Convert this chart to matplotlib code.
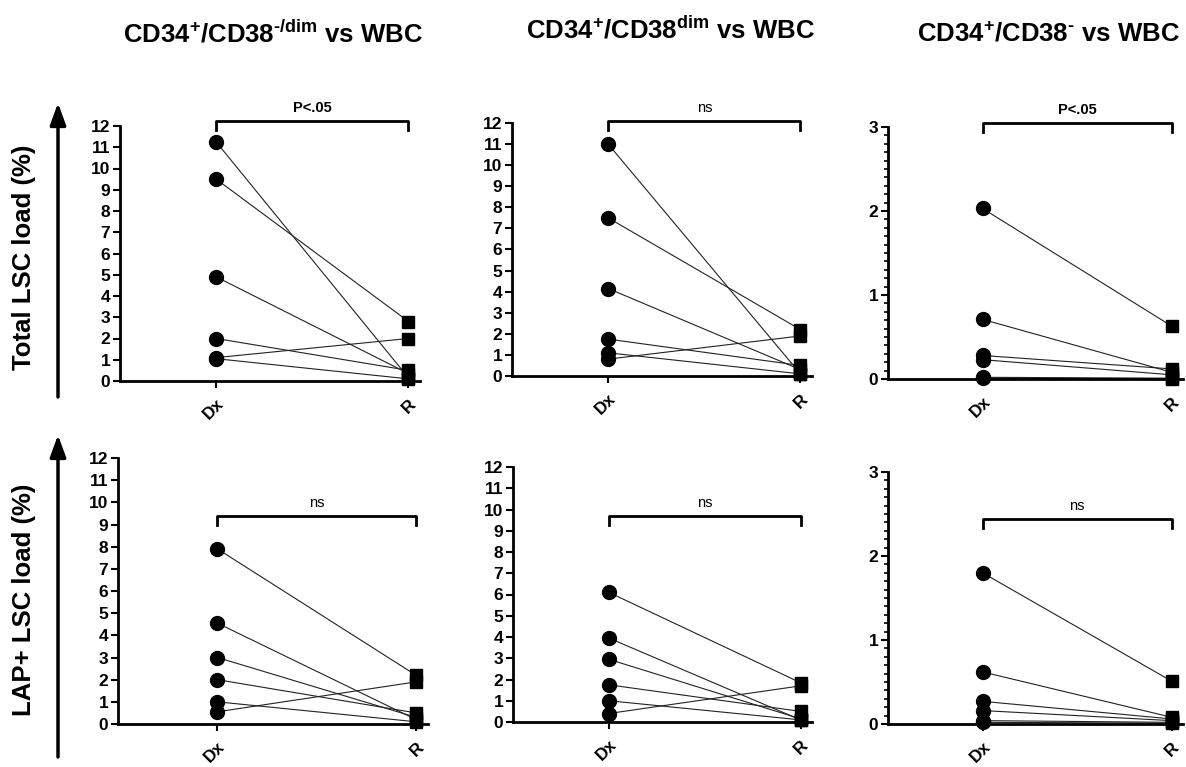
import matplotlib
matplotlib.use("Agg")
import matplotlib.pyplot as plt
from matplotlib.ticker import MultipleLocator

plt.rcParams['font.family'] = ['Liberation Sans', 'DejaVu Sans']
plt.rcParams['mathtext.fontset'] = 'custom'
plt.rcParams['mathtext.rm'] = 'Liberation Sans:bold'
plt.rcParams['mathtext.it'] = 'Liberation Sans:bold'
plt.rcParams['mathtext.bf'] = 'Liberation Sans:bold'
plt.rcParams['mathtext.default'] = 'bf'

groups = ['Dx', 'R']

# top row: total LSC load
tot_dim_dx = [11.25, 9.5, 4.9, 2.0, 1.1, 1.05]
tot_dim_r = [0.15, 2.8, 0.35, 0.5, 2.0, 0.1]
tot_dimonly_dx = [11.0, 7.5, 4.15, 1.75, 1.1, 0.8]
tot_dimonly_r = [0.1, 2.2, 0.3, 0.5, 0.1, 1.9]
tot_neg_dx = [2.03, 0.71, 0.28, 0.23, 0.02, 0.01]
tot_neg_r = [0.63, 0.08, 0.12, 0.05, 0.01, 0.0]

# bottom row: LAP+ LSC load
lap_dim_dx = [7.9, 4.55, 3.0, 2.0, 1.0, 0.55]
lap_dim_r = [2.2, 0.2, 0.3, 0.5, 0.1, 1.9]
lap_dimonly_dx = [6.1, 3.95, 2.95, 1.75, 1.0, 0.4]
lap_dimonly_r = [1.85, 0.1, 0.15, 0.5, 0.1, 1.7]
lap_neg_dx = [1.8, 0.62, 0.27, 0.16, 0.04, 0.02]
lap_neg_r = [0.51, 0.08, 0.06, 0.04, 0.02, 0.01]

titles = [r"CD34$^{+}$/CD38$^{\text{-/dim}}$ vs WBC",
          r"CD34$^{+}$/CD38$^{dim}$ vs WBC",
          r"CD34$^{+}$/CD38$^{\text{-}}$ vs WBC"]
row_labels = ["Total LSC load (%)", "LAP+ LSC load (%)"]

W, H = 1186, 767
fig = plt.figure(figsize=(W / 100, H / 100), dpi=100)


def px_axes(left, bottom_px, right, top_px):
    # pixel coords from top-left to figure fraction
    return fig.add_axes([left / W, 1 - bottom_px / H, (right - left) / W, (bottom_px - top_px) / H])


panels = [
    # left, y0 px, right, ytop px, ymax, dx, r, label, bracket y
    (120, 381, 420, 126, 12, tot_dim_dx, tot_dim_r, "P<.05", 12.25),
    (512, 376, 812, 123, 12, tot_dimonly_dx, tot_dimonly_r, "ns", 12.1),
    (888, 379, 1183, 127, 3, tot_neg_dx, tot_neg_r, "P<.05", 3.05),
    (118, 724, 428, 458, 12, lap_dim_dx, lap_dim_r, "ns", 9.4),
    (513, 722, 812, 467, 12, lap_dimonly_dx, lap_dimonly_r, "ns", 9.7),
    (888, 724, 1183, 472, 3, lap_neg_dx, lap_neg_r, "ns", 2.44),
]

for l, b, r, t, ymax, dx, rv, lab, by in panels:
    ax = px_axes(l, b, r, t)
    for a, c in zip(dx, rv):
        ax.plot([0, 1], [a, c], color='#222222', lw=0.8, zorder=2)
    ax.plot([0] * len(dx), dx, 'o', color='black', ms=10, zorder=3, clip_on=False)
    ax.plot([1] * len(rv), rv, 's', color='black', ms=9, zorder=3, clip_on=False)
    ax.set_xlim(-0.5, 1.06)
    ax.set_ylim(0, ymax)
    for s in ['top', 'right']:
        ax.spines[s].set_visible(False)
    for s in ['left', 'bottom']:
        ax.spines[s].set_linewidth(2)
    ax.set_xticks([0, 1])
    ax.set_xticklabels(groups, rotation=45, fontsize=12.5, fontweight='bold',
                       ha='right', rotation_mode='anchor')
    ax.yaxis.set_major_locator(MultipleLocator(1))
    if ymax == 3:
        ax.yaxis.set_minor_locator(MultipleLocator(0.1))
        ax.tick_params(axis='y', which='minor', length=3, width=1.2)
    ax.tick_params(axis='both', which='major', length=5, width=1.5, pad=2)
    ax.tick_params(axis='x', which='major', pad=6)
    for tl in ax.get_yticklabels():
        tl.set_fontweight('bold')
        tl.set_fontsize(12.5)
    # bracket
    leg = ymax * 0.035
    ax.plot([0, 0, 1, 1], [by - leg, by, by, by - leg], color='black', lw=2, clip_on=False)
    ax.annotate(lab, (0.5, by), xytext=(0, 4), textcoords='offset points',
                ha='center', va='bottom', fontsize=10.5, annotation_clip=False,
                fontweight='bold' if lab != 'ns' else 'normal')

title_pos = [(273, 34), (670, 30), (1048, 34)]
for (x, y), tt in zip(title_pos, titles):
    fig.text(x / W, 1 - y / H, tt, ha='center', va='center', fontsize=18.5, fontweight='bold')

# row arrows and labels
for (y0, y1), lab, yc in zip([(397, 103), (757, 435)], row_labels, [257, 600]):
    fig.add_artist(matplotlib.patches.FancyArrowPatch(
        (58 / W, 1 - y0 / H), (58 / W, 1 - y1 / H), transform=fig.transFigure,
        arrowstyle='-|>,head_length=1.1,head_width=0.4', color='black', lw=2.5,
        mutation_scale=12, shrinkA=0, shrinkB=0))
    fig.text(24 / W, 1 - yc / H, lab, rotation=90, ha='center', va='center',
             fontsize=18.5, fontweight='bold')

fig.savefig("out.png", dpi=100)
